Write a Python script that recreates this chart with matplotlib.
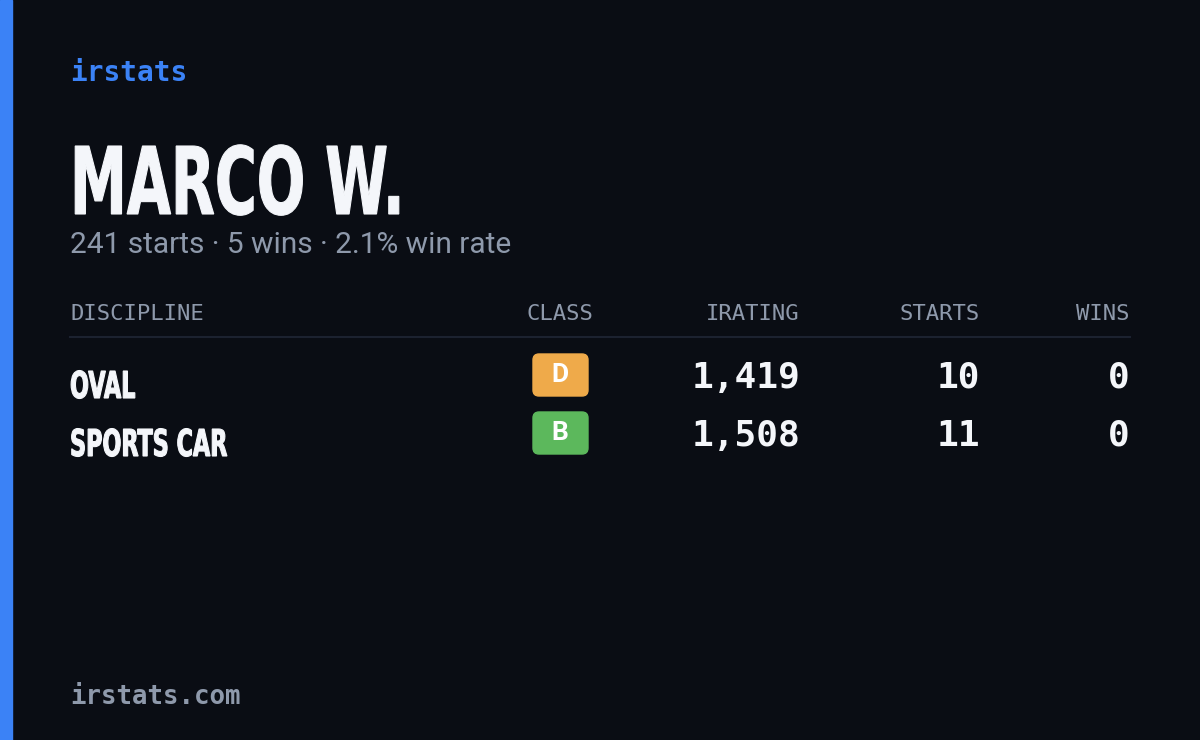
import matplotlib.pyplot as plt
from matplotlib.patches import FancyBboxPatch, Rectangle, PathPatch
from matplotlib.textpath import TextPath
from matplotlib.font_manager import FontProperties
from matplotlib.transforms import Affine2D

driver = 'MARCO W.'
total_starts = 241
total_wins = 5
win_rate = 2.1
columns = ['DISCIPLINE', 'CLASS', 'IRATING', 'STARTS', 'WINS']
disciplines = ['OVAL', 'SPORTS CAR']
classes = ['D', 'B']
iratings = [1419, 1508]
starts = [10, 11]
wins = [0, 0]
class_colors = {'D': '#efaa4a', 'B': '#5cb85c'}

W, H = 1200, 740
BG = '#0a0d14'
GREY = '#8e99ab'
WHITE = '#f4f6fa'
MONO = ['DejaVu Sans Mono']
COND_FP = FontProperties(family='DejaVu Sans', weight='bold', stretch='condensed')

fig = plt.figure(figsize=(12, 7.4), dpi=100, facecolor=BG)
ax = fig.add_axes([0, 0, 1, 1])
ax.set_xlim(0, W)
ax.set_ylim(H, 0)
ax.axis('off')
ax.set_facecolor(BG)


def narrow_text(x, baseline, s, cap, xscale):
    # draw text as a path, squeezed horizontally to mimic a condensed display font
    tp = TextPath((0, 0), s, size=1, prop=COND_FP)
    capH = TextPath((0, 0), 'H', size=1, prop=COND_FP).get_extents().height
    sy = cap / capH
    tr = Affine2D().scale(sy * xscale, -sy).translate(x, baseline)
    ax.add_patch(PathPatch(tr.transform_path(tp), color=WHITE, lw=0.8))


ax.add_patch(Rectangle((0, 0), 12, H, color='#3b82f6'))

ax.text(70, 73, 'irstats', color='#3b82f6', fontsize=20, family=MONO, weight='bold', va='center')
narrow_text(70, 214, driver, 68, 0.68)
ax.text(70, 245, f'{total_starts} starts · {total_wins} wins · {win_rate}% win rate',
        color=GREY, fontsize=21.5, family=['Roboto', 'DejaVu Sans'], va='center')

col_x = [70, 593, 800, 980, 1130]
col_ha = ['left', 'right', 'right', 'right', 'right']
for x, ha, c in zip(col_x, col_ha, columns):
    ax.text(x, 314, c, color=GREY, fontsize=16, family=MONO, ha=ha, va='center')
ax.plot([70, 1130], [337, 337], color='#1c2230', lw=1.5)

row_y = [378, 436]
for y, d, cl, ir, s, w in zip(row_y, disciplines, classes, iratings, starts, wins):
    narrow_text(70, y + 20, d, 27, 0.67)
    ax.add_patch(FancyBboxPatch((533, y - 24), 55, 42, boxstyle='round,pad=0,rounding_size=6',
                                color=class_colors[cl]))
    ax.text(560, y - 3, cl, color='white', fontsize=19, weight='bold',
            family=['Roboto', 'DejaVu Sans'], ha='center', va='center')
    for x, v in zip([800, 980, 1130], [f'{ir:,}', str(s), str(w)]):
        ax.text(x, y, v, color=WHITE, fontsize=26, family=MONO, weight='bold', ha='right', va='center')

ax.text(70, 697, 'irstats.com', color=GREY, fontsize=18.5, family=MONO, weight='bold', va='center')

fig.savefig('out.png', dpi=100, facecolor=BG)
